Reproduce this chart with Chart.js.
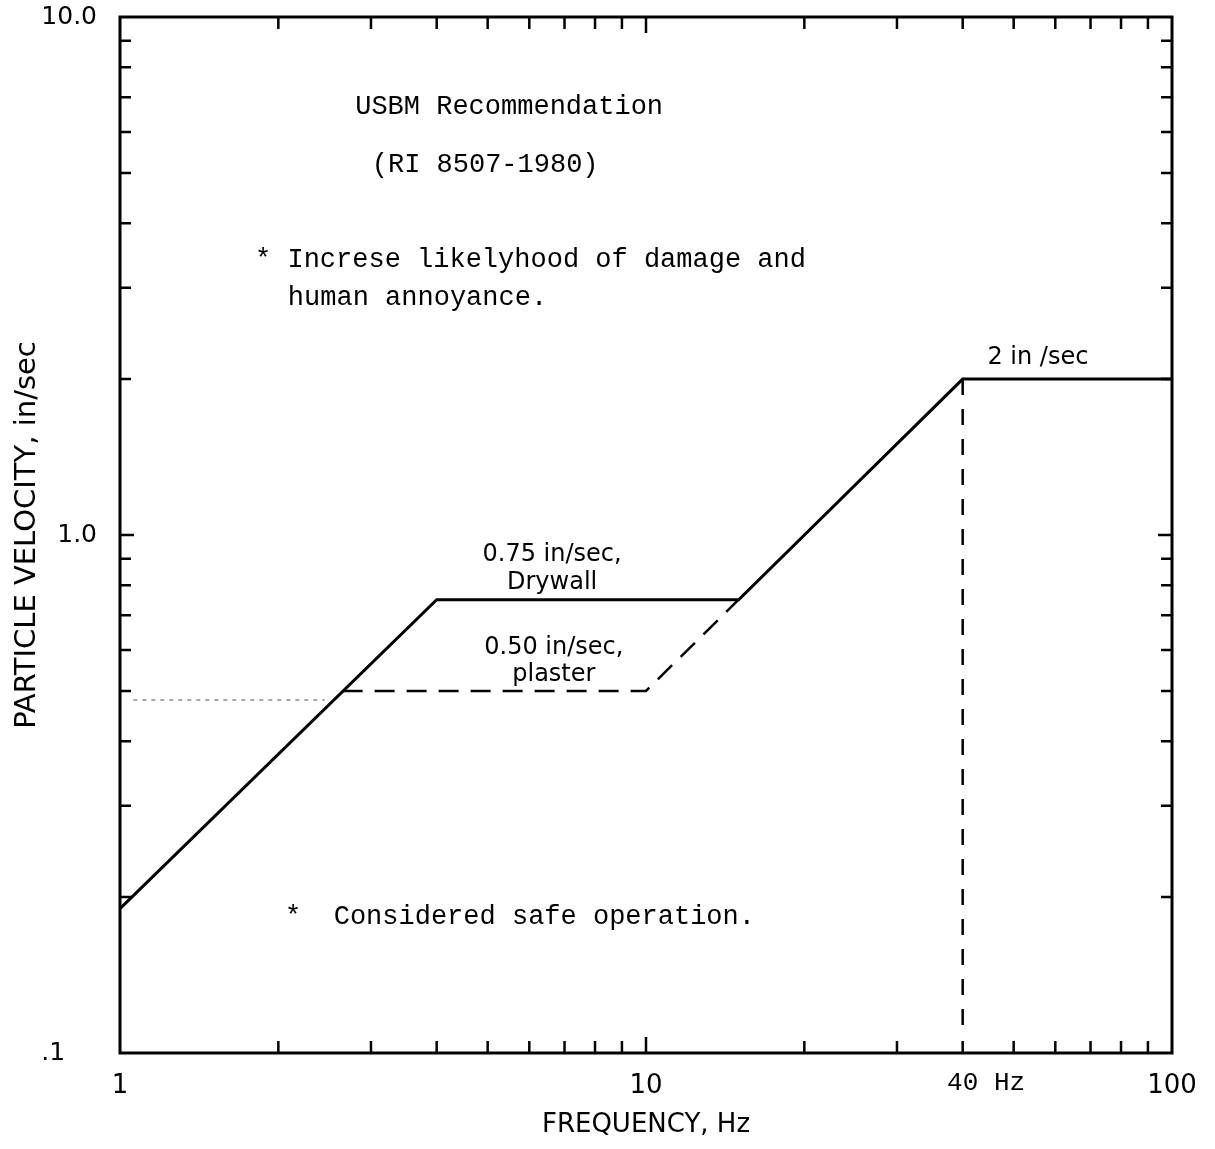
<!DOCTYPE html>
<html>
<head>
<meta charset="utf-8">
<script src="https://cdn.jsdelivr.net/npm/chart.js@4"></script>
<style>
  body { margin: 0; background: #fff; }
  #wrap { width: 1215px; height: 1149px; }
</style>
</head>
<body>
<div id="wrap"><canvas id="chart" width="1215" height="1149"></canvas></div>
<script>
// Data (log-log)
const solidFreq = [1, 4, 15, 40, 100];
const solidVel = [0.19, 0.75, 0.75, 2, 2];

const plasterFreq = [2.65, 10, 15];
const plasterVel = [0.5, 0.5, 0.75];

const faintFreq = [1.06, 2.45];
const faintVel = [0.48, 0.48];

const limitFreq = [40, 40];
const limitVel = [2, 0.111];

const xTickValues = [1, 10, 100];
const xTickLabels = ['1', '10', '100'];
const yTickValues = [0.1, 1, 10];
const yTickLabels = ['.1    ', '1.0', '10.0'];

const xMinor = [2, 3, 4, 5, 6, 7, 8, 9, 20, 30, 40, 50, 60, 70, 80, 90];
const yMinor = [0.2, 0.3, 0.4, 0.5, 0.6, 0.7, 0.8, 0.9, 2, 3, 4, 5, 6, 7, 8, 9];

// Text notes: [text, freq, velocity, align, font]
const MONO = '27px "Courier New", "Liberation Mono", monospace';
const SANS = '24px "DejaVu Sans", sans-serif';
const notes = [
    ['USBM Recommendation', 2.80, 6.70, 'left', MONO],
    ['(RI 8507-1980)', 3.01, 5.18, 'left', MONO],
    ['* Increse likelyhood of damage and', 1.806, 3.40, 'left', MONO],
    ['human annoyance.', 2.085, 2.87, 'left', MONO],
    ['*  Considered safe operation.', 2.06, 0.183, 'left', MONO],
    ['0.75 in/sec,', 6.63, 0.915, 'center', SANS],
    ['Drywall', 6.63, 0.808, 'center', SANS],
    ['0.50 in/sec,', 6.68, 0.605, 'center', SANS],
    ['plaster', 6.68, 0.537, 'center', SANS],
    ['2 in /sec', 55.6, 2.20, 'center', SANS]
];

function pts(xs, ys) {
    return xs.map((x, i) => ({ x: x, y: ys[i] }));
}

// frame + inward ticks + notes
const decor = {
    id: 'decor',
    afterDraw(chart) {
        const c = chart.ctx;
        const a = chart.chartArea;
        const sx = chart.scales.x, sy = chart.scales.y;
        c.save();
        c.strokeStyle = '#000';
        c.lineWidth = 3;
        c.strokeRect(a.left, a.top, a.right - a.left, a.bottom - a.top);

        c.lineWidth = 2.5;
        c.beginPath();
        xMinor.forEach(v => {
            const px = sx.getPixelForValue(v);
            c.moveTo(px, a.bottom); c.lineTo(px, a.bottom - 12);
            c.moveTo(px, a.top); c.lineTo(px, a.top + 12);
        });
        yMinor.forEach(v => {
            const py = sy.getPixelForValue(v);
            c.moveTo(a.left, py); c.lineTo(a.left + 11, py);
            c.moveTo(a.right, py); c.lineTo(a.right - 11, py);
        });
        // major decade marks
        [10].forEach(v => {
            const px = sx.getPixelForValue(v);
            c.moveTo(px, a.bottom); c.lineTo(px, a.bottom - 16);
            c.moveTo(px, a.top); c.lineTo(px, a.top + 16);
        });
        [1].forEach(v => {
            const py = sy.getPixelForValue(v);
            c.moveTo(a.left, py); c.lineTo(a.left + 14, py);
            c.moveTo(a.right, py); c.lineTo(a.right - 14, py);
        });
        c.stroke();

        c.fillStyle = '#000';
        c.textBaseline = 'middle';
        notes.forEach(n => {
            c.font = n[4];
            c.textAlign = n[3];
            c.fillText(n[0], sx.getPixelForValue(n[1]), sy.getPixelForValue(n[2]));
        });

        // "40 Hz" label under the 40 Hz limit
        c.font = '26px "Courier New", "Liberation Mono", monospace';
        c.textAlign = 'left';
        const w40 = c.measureText('40').width;
        c.fillText('40 Hz', sx.getPixelForValue(40) - w40 / 2, a.bottom + 30);
        c.restore();
    }
};

const ctx = document.getElementById('chart').getContext('2d');
new Chart(ctx, {
    type: 'scatter',
    data: {
        datasets: [
            {
                data: pts(solidFreq, solidVel),
                showLine: true, borderColor: '#000', borderWidth: 3,
                pointRadius: 0, fill: false
            },
            {
                data: pts(plasterFreq, plasterVel),
                showLine: true, borderColor: '#000', borderWidth: 2.5,
                borderDash: [20, 12], pointRadius: 0, fill: false
            },
            {
                data: pts(faintFreq, faintVel),
                showLine: true, borderColor: '#8a8a8a', borderWidth: 1.5,
                borderDash: [4, 5], pointRadius: 0, fill: false
            },
            {
                data: pts(limitFreq, limitVel),
                showLine: true, borderColor: '#000', borderWidth: 2.5,
                borderDash: [16, 14], pointRadius: 0, fill: false
            }
        ]
    },
    options: {
        responsive: false,
        animation: false,
        layout: { padding: { top: 17, right: 43, left: 0, bottom: 0 } },
        plugins: { legend: { display: false }, tooltip: { enabled: false } },
        scales: {
            x: {
                type: 'logarithmic',
                min: 1, max: 100,
                afterBuildTicks: s => { s.ticks = xTickValues.map(v => ({ value: v })); },
                afterFit: s => { s.height = 96; s.paddingLeft = 0; s.paddingRight = 0; },
                grid: { display: false, drawTicks: false },
                border: { display: false },
                ticks: {
                    autoSkip: false, maxRotation: 0, padding: 18, color: '#000',
                    font: { family: '"DejaVu Sans", sans-serif', size: 26 },
                    callback: (v, i) => xTickLabels[i]
                },
                title: {
                    display: true, text: 'FREQUENCY, Hz', color: '#000',
                    font: { family: '"DejaVu Sans", sans-serif', size: 26, lineHeight: 1.2 },
                    padding: { top: 0, bottom: 8 }
                }
            },
            y: {
                type: 'logarithmic',
                min: 0.1, max: 10,
                afterBuildTicks: s => { s.ticks = yTickValues.map(v => ({ value: v })); },
                afterFit: s => { s.width = 120; s.paddingTop = 0; s.paddingBottom = 0; },
                grid: { display: false, drawTicks: false },
                border: { display: false },
                ticks: {
                    autoSkip: false, padding: 23, color: '#000',
                    font: { family: '"DejaVu Sans", sans-serif', size: 25 },
                    callback: (v, i) => yTickLabels[i]
                },
                title: {
                    display: true, text: 'PARTICLE VELOCITY, in/sec', color: '#000',
                    font: { family: '"DejaVu Sans", sans-serif', size: 29, lineHeight: 1.2 },
                    padding: { top: 10, bottom: 0 }
                }
            }
        }
    },
    plugins: [decor]
});
</script>
</body>
</html>
